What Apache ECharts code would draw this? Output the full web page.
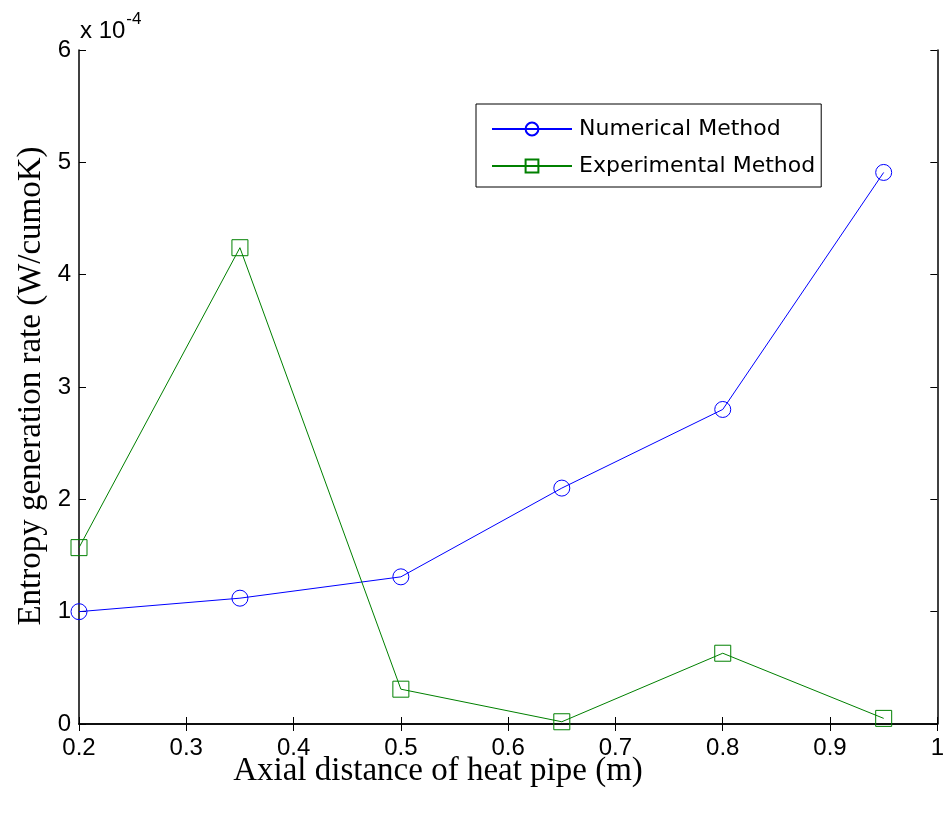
<!DOCTYPE html>
<html><head><meta charset="utf-8">
<script src="https://cdn.jsdelivr.net/npm/echarts@6/dist/echarts.min.js"></script>
<style>html,body{margin:0;padding:0;background:#fff}#c{width:947px;height:814px}</style>
</head><body><div id="c"></div>
<script>
const xValues = [0.2, 0.35, 0.5, 0.65, 0.8, 0.95];
const numerical = [1.00, 1.12, 1.31, 2.10, 2.80, 4.91];
const experimental = [1.57, 4.24, 0.31, 0.02, 0.63, 0.05];
const seriesNames = ['Numerical Method', 'Experimental Method'];
const xTitle = 'Axial distance of heat pipe (m)';
const yTitle = 'Entropy generation rate (W/cumoK)';

const chart = echarts.init(document.getElementById('c'), null, {renderer: 'canvas'});
const lab = {color: '#000', fontFamily: 'Liberation Sans, Arial', fontSize: 24};
const tick = {show: true, inside: true, length: 7, lineStyle: {color: '#000', width: 1}};
const axLine = {show: true, lineStyle: {color: '#000', width: 1.5}};
function pairs(ys){ return xValues.map((x,i)=>[x, ys[i]]); }
chart.setOption({
  animation: false,
  backgroundColor: '#fff',
  grid: {left: 79, right: 9, top: 50, bottom: 90, show: false},
  xAxis: [
    {type: 'value', min: 0.2, max: 1, interval: 0.1, position: 'bottom',
     axisLine: axLine, axisTick: tick, splitLine: {show: false},
     axisLabel: Object.assign({margin: 12, formatter: v => (Math.round(v*10)/10).toString()}, lab)},
    {type: 'value', min: 0.2, max: 1, interval: 0.1, position: 'top',
     axisLine: axLine, axisTick: tick, splitLine: {show: false}, axisLabel: {show: false}}
  ],
  yAxis: [
    {type: 'value', min: 0, max: 6, interval: 1, position: 'left',
     axisLine: axLine, axisTick: tick, splitLine: {show: false},
     axisLabel: Object.assign({margin: 8}, lab)},
    {type: 'value', min: 0, max: 6, interval: 1, position: 'right',
     axisLine: axLine, axisTick: tick, splitLine: {show: false}, axisLabel: {show: false}}
  ],
  legend: {
    left: 476, top: 104, orient: 'vertical',
    padding: [12, 6, 8, 15], itemGap: 11, itemWidth: 80, itemHeight: 16,
    borderColor: '#000', borderWidth: 1, borderRadius: 0, backgroundColor: '#fff',
    textStyle: {color: '#000', fontFamily: 'DejaVu Sans', fontSize: 22, lineHeight: 26, padding: [0,0,0,2]},
    data: seriesNames
  },
  series: [
    {name: seriesNames[0], type: 'line', data: pairs(numerical),
     symbol: 'circle', symbolSize: 16,
     lineStyle: {color: '#0000ff', width: 1},
     itemStyle: {color: 'rgba(255,255,255,0)', borderColor: '#0000ff', borderWidth: 1}},
    {name: seriesNames[1], type: 'line', data: pairs(experimental),
     symbol: 'rect', symbolSize: 16,
     lineStyle: {color: '#008000', width: 1},
     itemStyle: {color: 'rgba(255,255,255,0)', borderColor: '#008000', borderWidth: 1}}
  ],
  graphic: [
    {type: 'text', left: 80, top: 11,
     style: {text: '{a|x 10}{b|-4}', rich: {
       a: {fontFamily: 'Liberation Sans, Arial', fontSize: 24, fill: '#000', padding: [12,0,0,0]},
       b: {fontFamily: 'Liberation Sans, Arial', fontSize: 17, fill: '#000', padding: [0,0,12,1]}}}},
    {type: 'text', x: 438, y: 771,
     style: {text: xTitle, fill: '#000', fontFamily: 'Liberation Serif, Times New Roman', fontSize: 33,
       textAlign: 'center', textVerticalAlign: 'middle'}},
    {type: 'text', x: 31, y: 386, rotation: Math.PI / 2,
     style: {text: yTitle, fill: '#000', fontFamily: 'Liberation Serif, Times New Roman', fontSize: 33,
       textAlign: 'center', textVerticalAlign: 'middle'}}
  ]
});
</script></body></html>
